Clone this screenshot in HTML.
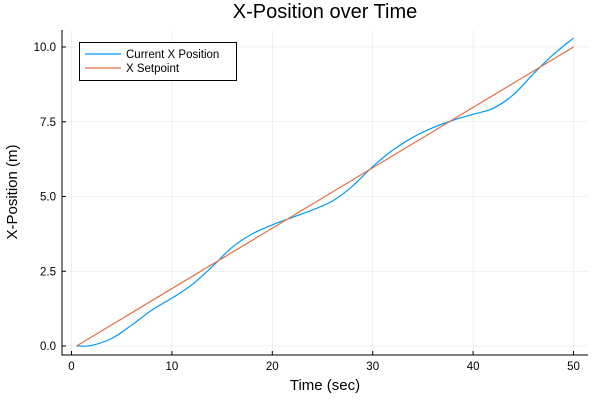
<!DOCTYPE html>
<html><head><meta charset="utf-8"><style>
body{margin:0;background:#fff}
svg{display:block;font-family:"Liberation Sans",sans-serif}
</style></head><body>
<svg id="chart" width="600" height="400">
<text x="325" y="18" text-anchor="middle" font-size="20" fill="#000">X-Position over Time</text>
<g id="grid"></g>
<g id="axes"></g>
<g id="series"></g>
<text x="325" y="390" text-anchor="middle" font-size="15">Time (sec)</text>
<text transform="translate(17,192) rotate(-90)" text-anchor="middle" font-size="15">X-Position (m)</text>
<g>
<rect x="79.5" y="42.5" width="157" height="38" fill="#fff" stroke="#000" stroke-width="1"/>
<g>
<line x1="85" y1="54" x2="121" y2="54" stroke="#009af9" stroke-width="1.2"/>
<text x="126" y="58" font-size="11.5">Current X Position</text></g>
<g>
<line x1="85" y1="68" x2="121" y2="68" stroke="#e26f46" stroke-width="1.2"/>
<text x="126" y="72" font-size="11.5">X Setpoint</text></g>
</g>
</svg>
<script>
const xTicks=[0,10,20,30,40,50];
const yTicks=[0,2.5,5,7.5,10];
const yTickLabels=["0.0","2.5","5.0","7.5","10.0"];
const currentT=[0.5,2,4,6,8,10,12,14,16,18,20,22,24,26,28,30,32,34,36,38,40,42,44,46,48,50];
const currentX=[0,0.02,0.25,0.7,1.2,1.6,2.05,2.65,3.3,3.75,4.05,4.3,4.55,4.85,5.35,6.0,6.55,6.98,7.3,7.55,7.75,7.95,8.4,9.1,9.75,10.3];
const setT=[0.5,50];
const setX=[0,10];
const NS="http://www.w3.org/2000/svg";
const L=62,R=588,T=30,B=355;
const sx=v=>71.5+v*10.04;
const sy=v=>346-v*29.9;
function mk(tag,attrs,parent){const e=document.createElementNS(NS,tag);for(const k in attrs)e.setAttribute(k,attrs[k]);parent.appendChild(e);return e;}
const grid=document.getElementById('grid'),axes=document.getElementById('axes'),series=document.getElementById('series');
xTicks.forEach(t=>{
 const g=mk('line',{x1:sx(t),x2:sx(t),y1:T,y2:B,stroke:'#000','stroke-opacity':0.1,'stroke-width':0.6},grid);
 
 
 const tk=mk('line',{x1:sx(t),x2:sx(t),y1:B,y2:B-4,stroke:'#000'},axes);
 
 
 const tx=mk('text',{x:sx(t),y:B+15,'text-anchor':'middle','font-size':11.5},axes);
 tx.textContent=t;
 
 
});
yTicks.forEach((t,i)=>{
 const g=mk('line',{x1:L,x2:R,y1:sy(t),y2:sy(t),stroke:'#000','stroke-opacity':0.1,'stroke-width':0.6},grid);
 
 
 const tk=mk('line',{x1:L,x2:L+4,y1:sy(t),y2:sy(t),stroke:'#000'},axes);
 
 
 const tx=mk('text',{x:L-6,y:sy(t)+4,'text-anchor':'end','font-size':11.5},axes);
 tx.textContent=yTickLabels[i];
 
 
});
const ax=mk('path',{d:`M${L},${T}V${B}H${R}`,fill:'none',stroke:'#000','stroke-width':1},axes);


function smooth(xs,ys){
 const p=xs.map((x,i)=>[sx(x),sy(ys[i])]);
 let d=`M${p[0][0]},${p[0][1]}`;
 for(let i=0;i<p.length-1;i++){
  const p0=p[Math.max(0,i-1)],p1=p[i],p2=p[i+1],p3=p[Math.min(p.length-1,i+2)];
  d+=`C${p1[0]+(p2[0]-p0[0])/6},${p1[1]+(p2[1]-p0[1])/6} ${p2[0]-(p3[0]-p1[0])/6},${p2[1]-(p3[1]-p1[1])/6} ${p2[0]},${p2[1]}`;
 }
 return d;
}
const cur=mk('path',{d:smooth(currentT,currentX),fill:'none',stroke:'#009af9','stroke-width':1.2},series);


const sp=mk('path',{d:setT.map((t,i)=>(i?'L':'M')+sx(t)+','+sy(setX[i])).join(''),fill:'none',stroke:'#e26f46','stroke-width':1.2},series);


</script>
</body></html>
